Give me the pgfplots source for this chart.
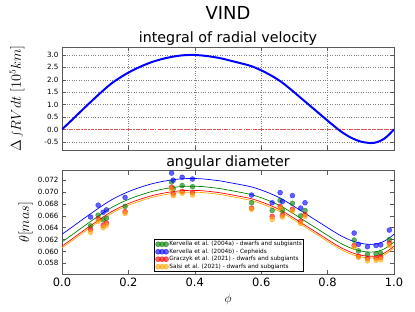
\documentclass[border=0pt]{standalone}
\usepackage{fontspec}
\setmainfont{DejaVu Sans}
\usepackage{pgfplots}
\pgfplotsset{compat=1.18}
\usepackage{pgfplotstable}
\definecolor{mplgreen}{rgb}{0,0.5,0}
\definecolor{mplorange}{rgb}{1,0.647,0}
\definecolor{framegray}{gray}{0.35}

\pgfplotstableread{
phi I
0.00 0.00
0.03 0.38
0.06 0.77
0.09 1.15
0.12 1.52
0.15 1.86
0.18 2.13
0.21 2.36
0.24 2.55
0.27 2.71
0.30 2.83
0.33 2.92
0.36 2.98
0.39 3.00
0.42 2.98
0.45 2.93
0.48 2.86
0.51 2.76
0.54 2.66
0.57 2.55
0.60 2.38
0.63 2.17
0.66 1.92
0.69 1.60
0.72 1.26
0.75 0.92
0.78 0.58
0.81 0.24
0.84 -0.08
0.87 -0.33
0.90 -0.49
0.93 -0.55
0.95 -0.51
0.97 -0.38
0.985 -0.21
1.00 0.00
}\intdata

\pgfplotstableread{
phi b g r o
0.00 0.06290 0.06160 0.06090 0.06060
0.03 0.06409 0.06279 0.06209 0.06179
0.06 0.06531 0.06401 0.06331 0.06301
0.09 0.06650 0.06520 0.06450 0.06420
0.12 0.06766 0.06636 0.06566 0.06536
0.15 0.06872 0.06742 0.06672 0.06642
0.18 0.06957 0.06827 0.06757 0.06727
0.21 0.07029 0.06899 0.06829 0.06799
0.24 0.07088 0.06958 0.06888 0.06858
0.27 0.07138 0.07008 0.06938 0.06908
0.30 0.07176 0.07046 0.06976 0.06946
0.33 0.07204 0.07074 0.07004 0.06974
0.36 0.07223 0.07093 0.07023 0.06993
0.39 0.07229 0.07099 0.07029 0.06999
0.42 0.07223 0.07093 0.07023 0.06993
0.45 0.07207 0.07077 0.07007 0.06977
0.48 0.07185 0.07055 0.06985 0.06955
0.51 0.07154 0.07024 0.06954 0.06924
0.54 0.07123 0.06993 0.06923 0.06893
0.57 0.07088 0.06958 0.06888 0.06858
0.60 0.07035 0.06905 0.06835 0.06805
0.63 0.06969 0.06839 0.06769 0.06739
0.66 0.06891 0.06761 0.06691 0.06661
0.69 0.06791 0.06661 0.06591 0.06561
0.72 0.06684 0.06554 0.06484 0.06454
0.75 0.06578 0.06448 0.06378 0.06348
0.78 0.06472 0.06342 0.06272 0.06242
0.81 0.06365 0.06235 0.06165 0.06135
0.84 0.06265 0.06135 0.06065 0.06035
0.87 0.06187 0.06057 0.05987 0.05957
0.90 0.06137 0.06007 0.05937 0.05907
0.93 0.06118 0.05988 0.05918 0.05888
0.95 0.06130 0.06000 0.05930 0.05900
0.97 0.06171 0.06041 0.05971 0.05941
0.985 0.06224 0.06094 0.06024 0.05994
1.00 0.06290 0.06160 0.06090 0.06060
}\curves

\pgfplotstableread{
phi b g r o
0.086 0.0658 0.0643 0.0637 0.0632
0.109 0.0678 0.0661 0.0655 0.0651
0.124 0.0666 0.0653 0.0644 0.0640
0.134 0.0670 0.0656 0.0648 0.0644
0.190 0.0691 0.0676 0.0667 0.0664
0.330 0.0732 0.0717 0.0708 0.0705
0.335 0.0720 0.0706 0.0697 0.0694
0.362 0.0725 0.0711 0.0701 0.0698
0.393 0.0722 0.0709 0.0699 0.0695
0.571 0.0695 0.0682 0.0673 0.0671
0.633 0.0682 0.0669 0.0659 0.0654
0.657 0.0699 0.0686 0.0676 0.0673
0.664 0.0684 0.0669 0.0661 0.0658
0.694 0.0694 0.0681 0.0671 0.0668
0.719 0.0673 0.0660 0.0651 0.0647
0.732 0.0682 0.0669 0.0662 0.0659
0.880 0.0631 0.0619 0.0610 0.0607
0.893 0.0612 0.0601 0.0592 0.0590
0.920 0.0608 0.0595 0.0588 0.0584
0.946 0.0610 0.0596 0.0589 0.0585
0.960 0.0611 0.0597 0.0590 0.0586
0.986 0.0636 0.0620 0.0614 0.0610
}\points

\begin{document}
\begin{tikzpicture}
\useasboundingbox (-62bp,-38bp) rectangle (353bp,274bp);
\pgfplotsset{
  common/.style={
    scale only axis, width=332bp, xmin=0, xmax=1,
    axis line style={framegray},
    tick style={framegray, line width=0.4pt},
    tick align=inside, major tick length=4bp,
    /pgf/number format/assume math mode=true,
    scaled y ticks=false, scaled x ticks=false,
    every axis title shift=0pt,
    title style={at={(axis description cs:0.5,1)}, anchor=base, yshift=4bp,
      font=\fontsize{14.3}{17}\selectfont},
    yticklabel style={font=\fontsize{7.2}{8.5}\selectfont},
    xticklabel style={font=\fontsize{11.5}{13}\selectfont},
  },
  sc/.style={only marks, mark=*, mark size=2.5bp,
    mark options={draw=#1, fill=#1, fill opacity=0.62, draw opacity=0.62},
    legend image code/.code={\draw[##1] plot coordinates {(0bp,0bp)(4bp,0bp)(8bp,0bp)};}},
}
% top axis
\begin{axis}[common, at={(0,124bp)}, height=103bp,
  ymin=-0.83, ymax=3.32,
  ytick={-0.5,0,0.5,1,1.5,2,2.5,3},
  xtick={0,0.2,0.4,0.6,0.8,1}, xticklabels={},
  grid=major, major grid style={dotted, gray, line width=0.5pt},
  yticklabel style={/pgf/number format/.cd, fixed, fixed zerofill, precision=1},
  title={integral of radial velocity},
  ylabel={$\Delta \int\! RVdt\ [10^5 km]$},
  ylabel style={at={(axis description cs:-0.135,0.5)}, anchor=center, font=\fontsize{13.5}{15}\selectfont},
]
\addplot[red!75, dashdotted, line width=0.6pt] coordinates {(0,0) (1,0)};
\addplot[blue, line width=2pt, smooth] table[x=phi, y=I] {\intdata};
\end{axis}
% bottom axis
\begin{axis}[common, at={(0,0)}, height=103.3bp,
  ymin=0.0562, ymax=0.0736,
  ytick={0.058,0.060,0.062,0.064,0.066,0.068,0.070,0.072},
  xtick={0,0.2,0.4,0.6,0.8,1},
  yticklabel style={/pgf/number format/.cd, fixed, fixed zerofill, precision=3},
  xticklabel style={/pgf/number format/.cd, fixed, fixed zerofill, precision=1},
  title={angular diameter},
  ylabel={$\theta [mas]$},
  ylabel style={at={(axis description cs:-0.11,0.5)}, anchor=center, font=\fontsize{14}{16}\selectfont},
  xlabel={$\phi$},
  xlabel style={at={(axis description cs:0.5,-0.25)}, anchor=center, font=\fontsize{13}{15}\selectfont},
  legend cell align=left,
  legend style={at={(axis description cs:0.5035,0.022)}, anchor=south,
    font=\fontsize{5.8}{6.8}\selectfont, draw=black, line width=0.6pt,
    inner sep=1pt, row sep=0pt, fill=white, nodes={inner sep=0.8pt}},
]
\addplot[mplgreen, line width=0.7pt, smooth, forget plot] table[x=phi, y=g] {\curves};
\addplot[blue, line width=0.7pt, smooth, forget plot] table[x=phi, y=b] {\curves};
\addplot[red, line width=0.7pt, smooth, forget plot] table[x=phi, y=r] {\curves};
\addplot[mplorange, line width=0.7pt, smooth, forget plot] table[x=phi, y=o] {\curves};
\addplot[sc=mplgreen] table[x=phi, y=g] {\points};
\addlegendentry{Kervella et al. (2004a) - dwarfs and subgiants}
\addplot[sc=blue] table[x=phi, y=b] {\points};
\addlegendentry{Kervella et al. (2004b) - Cepheids}
\addplot[sc=red] table[x=phi, y=r] {\points};
\addlegendentry{Graczyk et al. (2021) - dwarfs and subgiants}
\addplot[sc=mplorange] table[x=phi, y=o] {\points};
\addlegendentry{Salsi et al. (2021) - dwarfs and subgiants}
\end{axis}
\node[anchor=base, font=\fontsize{18}{21}\selectfont] at (166bp,254.7bp) {VIND};
\end{tikzpicture}
\end{document}
